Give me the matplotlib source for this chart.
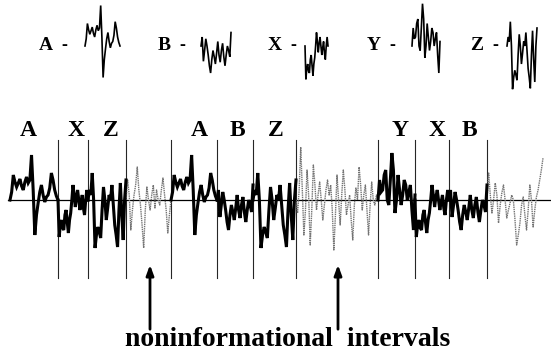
import numpy as np
import matplotlib
matplotlib.use('Agg')
import matplotlib.pyplot as plt

# waveform templates (deflection from baseline, up is positive)
wave_A = [0, 8, 25, 18, 13, 17, 21, 14, 10, 18, 23, 17, 20, 45, 10, -35, -15,
          -3, 8, 15, 5, -2, 3, 5, 12, 27, 20, 10, 4, 0]
wave_B = [0, 10, -17, -5, 8, 0, -10, -22, -30, -15, -5, -12, -20, -8, 5, -10,
          -18, -5, 3, -12, -22, -10, 0, -5, -12, 15]
wave_X = [0, -37, -25, -20, -28, -30, -15, -10, -22, -33, -20, -13, 0, 15, 5,
          -7, 3, 10, 0, -10, -2, 5, -8, -15, 0, 10, 0]
wave_Y = [0, 20, 8, 10, 25, 30, 0, -5, 20, 47, 30, -13, 0, 25, 10, -5, 5, 20,
          15, 0, 8, 15, -10, -30, 5]
wave_Z = [0, 10, 5, 27, 0, -48, -35, -27, -32, -38, -10, 13, 0, -20, -8, 5, 0,
          15, -5, -25, -35, -47, -10, 17, -15, -40, 0, 20]

# noninformational stretches
noise_1 = [0, 20, 5, -30, -10, 5, 15, 33, 10, -5, -25, -48, -10, 13, 0, -10, 5,
           15, -8, 10, 0, -5, 10, 22, 5, -10, -33, -15, 0]
noise_2 = [0, -13, 10, 53, 10, -35, -10, 30, 5, -45, -10, 35, 15, -10, 5, 18, 0,
           -20, -5, 10, 20, 5, 15, -10, -50, -15, 25, 0, -25, 5, 30, 10, -15, -5,
           5, -20, -40, -5, 12, 0, 33, 15, -10, 5, 15, -10, -35, -5, 18, 0, -5, 5, 0]
noise_3 = [0, 27, 5, -13, 0, 17, 5, -23, -5, 7, 15, 0, -18, -10, -3, 5, 0, -20,
           -45, -35, -23, -5, 3, -15, -30, -10, 15, 0, -27, -10, 3, 10, 20, 30, 42]

templates = {'A': wave_A, 'B': wave_B, 'X': wave_X, 'Y': wave_Y, 'Z': wave_Z}
noises = {'n1': noise_1, 'n2': noise_2, 'n3': noise_3}
sequence = ['A', 'X', 'Z', 'n1', 'A', 'B', 'Z', 'n2', 'Y', 'X', 'B', 'n3']

# layout (pixel units)
bounds = [10, 58, 88, 126, 171, 217, 253, 296, 378, 415, 449, 487, 543]
base = 200
top_labels = ['A', 'B', 'X', 'Y', 'Z']
top_label_x = [46, 164, 275, 374, 477]
top_wave_x = [(85, 120), (201, 231), (305, 328), (412, 440), (507, 537)]
main_label_x = [28, 76, 111, 199, 237, 276, 400, 437, 469]

fig = plt.figure(figsize=(5.51, 3.56), dpi=100)
ax = fig.add_axes([0, 0, 1, 1])
ax.set_xlim(0, 551)
ax.set_ylim(356, 0)
ax.axis('off')

serif = 'Liberation Serif'

# legend row of templates
for lab, lx, (x0, x1) in zip(top_labels, top_label_x, top_wave_x):
    w = np.array(templates[lab])
    xs = np.linspace(x0, x1, len(w))
    ax.plot(xs, 46 - 0.9*w, color='k', lw=1.2, solid_joinstyle='miter')
    ax.text(lx, 46, lab, fontfamily=serif, fontweight='bold', fontsize=14,
            ha='center', va='center')
    ax.text(lx + 18, 45, '-', fontfamily=serif, fontweight='bold', fontsize=13,
            ha='center', va='center')

# baseline
ax.plot([8, 551], [base, base], color='k', lw=0.9)

# main trace
for i, key in enumerate(sequence):
    x0, x1 = bounds[i], bounds[i + 1]
    if key in templates:
        w = np.array(templates[key])
        xs = np.linspace(x0, x1, len(w))
        ax.plot(xs, base - w, color='k', lw=2.2, solid_joinstyle='miter', zorder=3)
    else:
        w = np.array(noises[key])
        xs = np.linspace(x0, x1, len(w))
        ax.plot(xs, base - w, color='0.45', lw=1.0, ls=(0, (1, 0.6)), zorder=2)

# interval separators
for x in bounds[1:-1]:
    ax.plot([x, x], [140, 278], color='0.15', lw=0.8, zorder=1)

main_labels = [k for k in sequence if k in templates]
for lab, lx in zip(main_labels, main_label_x):
    ax.text(lx, 131, lab, fontfamily=serif, fontweight='bold', fontsize=17,
            ha='center', va='center')

# arrows to the noninformational intervals
for arr_x in [150, 338]:
    ax.annotate('', xy=(arr_x, 262), xytext=(arr_x, 332),
                arrowprops=dict(arrowstyle='-|>,head_width=0.22,head_length=0.6',
                                color='k', lw=2))

ax.text(288, 340, 'noninformational  intervals', fontfamily=serif,
        fontweight='bold', fontsize=20, ha='center', va='center')

fig.savefig('out.png', dpi=100)
